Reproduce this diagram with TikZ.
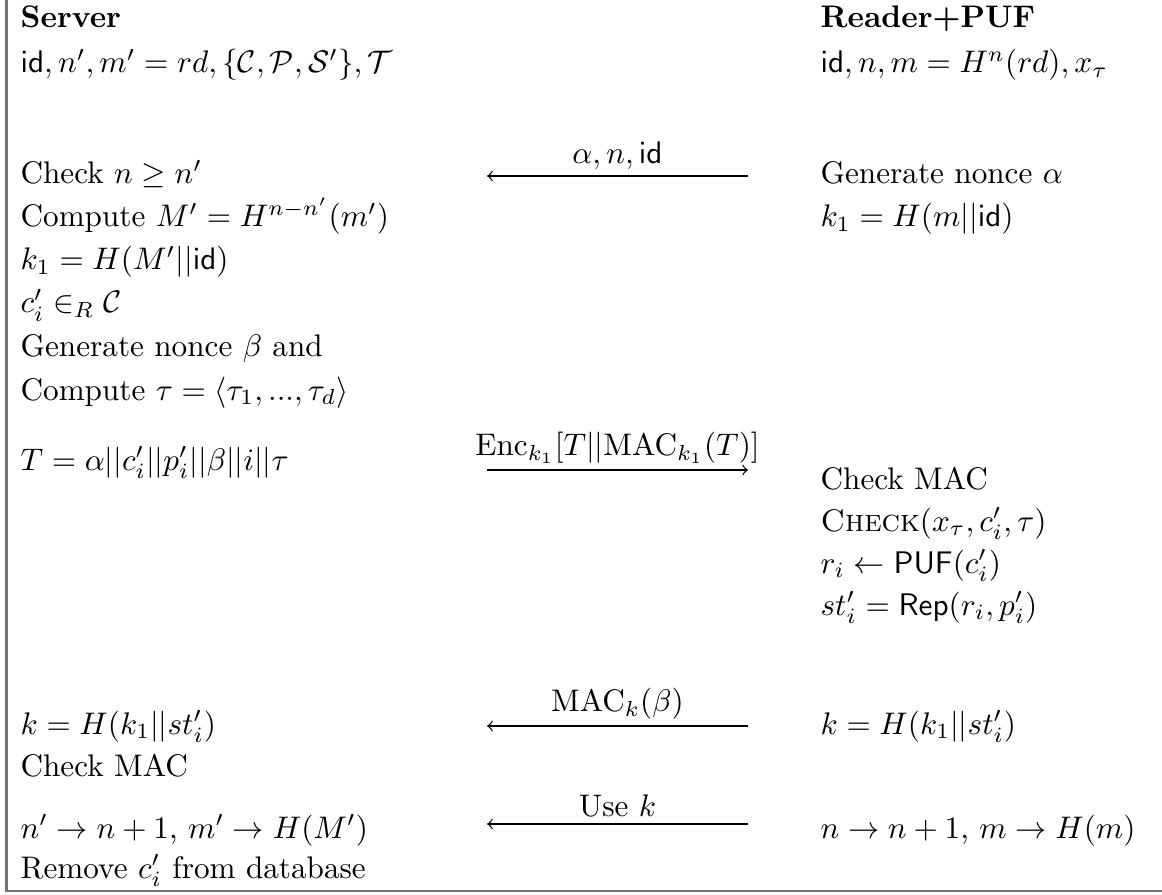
\documentclass[tikz,border=0pt]{standalone}
\usepackage{amsmath,amssymb}
\begin{document}
\begin{tikzpicture}[x=0.3205pt,y=-0.3205pt,
  txt/.style={anchor=base west, inner sep=0pt, font=\fontsize{10}{12}\selectfont},
  msg/.style={line width=0.4pt, -to},
  lbl/.style={midway, above=2pt, inner sep=0pt, font=\fontsize{10}{12}\selectfont},
  frame/.style={line width=0.8pt, black!55}]
\useasboundingbox (0,0) rectangle (1162,894);
% frame (top and right cut off)
\coordinate (ft) at (6.5,0);
\coordinate (fc) at (6.5,891);
\coordinate (fr) at (1162,891);
\draw[frame] (ft) -- (fc) -- (fr);
% server column
\node[txt] (s0) at (20,28) {\textbf{Server}};
\node[txt] (s1) at (20,73) {$\mathsf{id}, n', m' = rd, \{\mathcal{C}, \mathcal{P}, \mathcal{S}'\}, \mathcal{T}$};
\node[txt] (s2) at (20,184) {Check $n \geq n'$};
\node[txt] (s3) at (20,227) {Compute $M' = H^{n-n'}(m')$};
\node[txt] (s4) at (20,270) {$k_1 = H(M'||\mathsf{id})$};
\node[txt] (s5) at (20,313) {$c'_i \in_R \mathcal{C}$};
\node[txt] (s6) at (20,357) {Generate nonce $\beta$ and};
\node[txt] (s7) at (20,400) {Compute $\tau = \langle \tau_1, ..., \tau_d\rangle$};
\node[txt] (s8) at (20,470) {$T = \alpha||c'_i||p'_i||\beta||i||\tau$};
\node[txt] (s9) at (20,734) {$k = H(k_1||st'_i)$};
\node[txt] (s10) at (20,776) {Check MAC};
\node[txt] (s11) at (20,838) {$n' \rightarrow n+1$, $m' \rightarrow H(M')$};
\node[txt] (s12) at (20,878) {Remove $c'_i$ from database};
% reader column
\node[txt] (r0) at (820,28) {\textbf{Reader+PUF}};
\node[txt] (r1) at (820,73) {$\mathsf{id}, n, m = H^n(rd), x_\tau$};
\node[txt] (r2) at (820,184) {Generate nonce $\alpha$};
\node[txt] (r3) at (820,227) {$k_1 = H(m||\mathsf{id})$};
\node[txt] (r4) at (820,489) {Check MAC};
\node[txt] (r5) at (820,531) {\textsc{Check}$(x_\tau, c'_i, \tau)$};
\node[txt] (r6) at (820,573) {$r_i \leftarrow \mathsf{PUF}(c'_i)$};
\node[txt] (r7) at (820,615) {$st'_i = \mathsf{Rep}(r_i, p'_i)$};
\node[txt] (r8) at (820,734) {$k = H(k_1||st'_i)$};
\node[txt] (r9) at (820,838) {$n \rightarrow n+1$, $m \rightarrow H(m)$};
% message arrows
\coordinate (a1r) at (748,176); \coordinate (a1l) at (487,176);
\coordinate (a2l) at (487,470); \coordinate (a2r) at (748,470);
\coordinate (a3r) at (748,726); \coordinate (a3l) at (487,726);
\coordinate (a4r) at (748,824); \coordinate (a4l) at (487,824);
\draw[msg] (a1r) -- (a1l) node[lbl] {$\alpha, n, \mathsf{id}$};
\draw[msg] (a2l) -- (a2r) node[lbl] {$\mathrm{Enc}_{k_1}[T||\mathrm{MAC}_{k_1}(T)]$};
\draw[msg] (a3r) -- (a3l) node[lbl] {$\mathrm{MAC}_k(\beta)$};
\draw[msg] (a4r) -- (a4l) node[lbl] {Use $k$};
\end{tikzpicture}
\end{document}
